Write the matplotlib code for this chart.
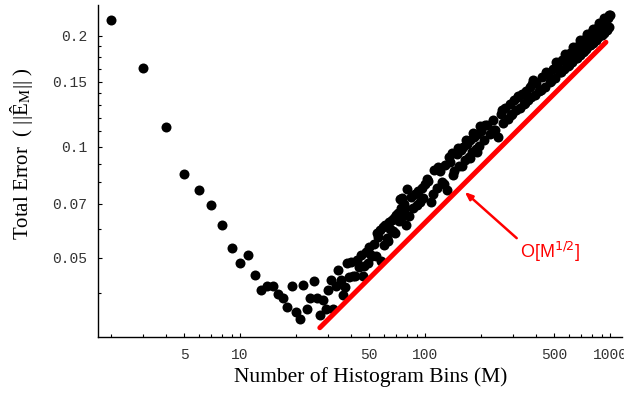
import matplotlib
matplotlib.use("Agg")
import matplotlib.pyplot as plt
from matplotlib.ticker import FixedLocator, NullFormatter

plt.rcParams["mathtext.fontset"] = "stix"

# Total error versus number of histogram bins (one point per bin count)
bins_small = list(range(2, 80))
err_small = [
    0.2207, 0.1637, 0.1129, 0.0845, 0.0762, 0.0695, 0.0613, 0.0532, 0.0483,
    0.0508, 0.0448, 0.0410, 0.0420, 0.0420, 0.0398, 0.0390, 0.0367, 0.0420,
    0.0356, 0.0342, 0.0423, 0.0364, 0.0390, 0.0433,
    0.0390, 0.0350, 0.0384, 0.0363, 0.0410, 0.0436, 0.0363, 0.0418, 0.0464,
    0.0436, 0.0396, 0.0416, 0.0485, 0.0443, 0.0487, 0.0446, 0.0446, 0.0492,
    0.0472, 0.0508, 0.0447, 0.0475, 0.0519, 0.0485, 0.0533, 0.0510, 0.0505,
    0.0545, 0.0505, 0.0584, 0.0570, 0.0596, 0.0490, 0.0604, 0.0540, 0.0613,
    0.0566, 0.0556, 0.0625, 0.0600, 0.0633, 0.0590, 0.0640, 0.0582, 0.0653,
    0.0660, 0.0630, 0.0720, 0.0680, 0.0725, 0.0650, 0.0700, 0.0680, 0.0613,
]

bins_mid = [80, 82, 84, 86, 88, 90, 92, 94, 96, 98, 100,
            104, 108, 112, 116, 120, 124, 128, 132, 136, 140, 144, 148,
            152, 156, 160, 164, 168, 172, 176, 180, 184, 188, 192, 196]
err_mid = [0.0766, 0.0650, 0.0730, 0.0680, 0.0745, 0.0695, 0.0760, 0.0710,
           0.0775, 0.0725, 0.0790,
           0.0805, 0.0709, 0.0865, 0.0775, 0.0860, 0.0800, 0.0890, 0.0763,
           0.0910, 0.0960, 0.0860, 0.0955, 0.0885, 0.0980, 0.1000, 0.0920,
           0.1015, 0.0940, 0.1040, 0.0965, 0.1060, 0.0985, 0.1085, 0.1005]

bins_mid2 = [102, 110, 118, 126, 134, 142, 150, 158, 166, 174, 182, 190, 198]
err_mid2 = [0.0817, 0.0745, 0.0880, 0.0790, 0.0940, 0.0840, 0.0990, 0.0888,
            0.1045, 0.0930, 0.1090, 0.0970, 0.1135]

bins_large = [200, 208, 216, 224, 232, 240, 248, 256, 264, 272, 280, 288,
              296, 304, 312, 320, 328, 336, 344, 352, 360, 368, 376, 384,
              392, 400, 415, 430, 445, 460, 475, 490, 505, 520, 535, 550,
              565, 580, 595, 610, 625, 640, 655, 670, 685, 700, 715, 730,
              745, 760, 775, 790, 805, 820, 835, 850, 865, 880, 895, 910,
              925, 940, 955, 970, 985, 1000]
err_large = [0.1100, 0.1040, 0.1145, 0.1080, 0.1185, 0.1110, 0.1064, 0.1230,
             0.1160, 0.1270, 0.1190, 0.1305, 0.1225, 0.1340, 0.1260, 0.1366,
             0.1275, 0.1390, 0.1305, 0.1420, 0.1335, 0.1455, 0.1365, 0.1517,
             0.1380, 0.1490, 0.1420, 0.1545, 0.1450, 0.1575, 0.1500, 0.1625,
             0.1540, 0.1675, 0.1590, 0.1720, 0.1620, 0.1755, 0.1660, 0.1800,
             0.1700, 0.1840, 0.1735, 0.1870, 0.1770, 0.1915, 0.1810, 0.1955,
             0.1845, 0.1995, 0.1885, 0.2030, 0.1910, 0.2060, 0.1945, 0.2095,
             0.1980, 0.2130, 0.2010, 0.2165, 0.2040, 0.2195, 0.2075, 0.2230,
             0.2110, 0.2275]

bins_extra = [210, 236, 260, 290, 318, 348, 380, 422, 452, 482, 512, 542,
              572, 602, 632, 662, 692, 722, 752, 782, 812, 842, 872, 902,
              932, 962, 992]
err_extra = [0.1147, 0.1112, 0.1259, 0.1216, 0.1374, 0.1314, 0.1481, 0.1427,
             0.1593, 0.1504, 0.1695, 0.1595, 0.1779, 0.1669, 0.1869, 0.1738,
             0.1942, 0.1815, 0.2026, 0.1889, 0.2089, 0.1946, 0.2165, 0.2014,
             0.2232, 0.2074, 0.2280]

# O(M^1/2) reference line endpoints
ref_bins = [27, 950]
ref_err = [0.0323, 0.1920]

x_major = [5, 10, 50, 100, 500, 1000]
x_minor = [2, 3, 4, 6, 7, 8, 9, 20, 30, 40, 60, 70, 80, 90,
           200, 300, 400, 600, 700, 800, 900]
y_major = [0.05, 0.07, 0.1, 0.15, 0.2]
y_major_labels = ["0.05", "0.07", "0.1", "0.15", "0.2"]
y_minor = [0.04, 0.06, 0.08, 0.09, 0.11, 0.12, 0.13, 0.14,
           0.1625, 0.175, 0.1875]

fig = plt.figure(figsize=(6.24, 3.95), dpi=100)
ax = fig.add_axes([0.1575, 0.1476, 0.8388, 0.8397])
ax.set_xscale("log")
ax.set_yscale("log")

dot = dict(marker="o", linestyle="none", color="black", markersize=7.2,
           markeredgewidth=0)
ax.plot(bins_small, err_small, **dot)
ax.plot(bins_mid, err_mid, **dot)
ax.plot(bins_mid2, err_mid2, **dot)
ax.plot(bins_large, err_large, **dot)
ax.plot(bins_extra, err_extra, **dot)

ax.plot(ref_bins, ref_err, color="#ff0000", linewidth=3.6,
        solid_capstyle="round", zorder=3)

ax.annotate("", xy=(164, 0.0754), xytext=(313, 0.0565),
            arrowprops=dict(arrowstyle="-|>,head_length=0.45,head_width=0.18",
                            color="#ff0000", lw=1.8, shrinkA=0, shrinkB=0))
ax.text(474, 0.0518, r"O[M$^{1/2}$]", color="#ff0000", fontsize=13,
        family="Liberation Sans", math_fontfamily="dejavusans",
        ha="center", va="center")

ax.set_xlim(1.714, 1156)
ax.set_ylim(0.03054, 0.2422)

for side in ("top", "right"):
    ax.spines[side].set_visible(False)
for side in ("left", "bottom"):
    ax.spines[side].set_linewidth(1.0)

ax.xaxis.set_major_locator(FixedLocator(x_major))
ax.xaxis.set_minor_locator(FixedLocator(x_minor))
ax.set_xticklabels([str(v) for v in x_major])
ax.xaxis.set_minor_formatter(NullFormatter())
ax.yaxis.set_major_locator(FixedLocator(y_major))
ax.yaxis.set_minor_locator(FixedLocator(y_minor))
ax.set_yticklabels(y_major_labels)
ax.yaxis.set_minor_formatter(NullFormatter())

ax.tick_params(which="both", direction="in", width=0.8, colors="black",
               labelcolor="#333333", labelsize=10.5)
ax.tick_params(which="major", length=3.2, pad=8)
ax.tick_params(which="minor", length=2.2)
for lab in ax.get_xticklabels() + ax.get_yticklabels():
    lab.set_family("Liberation Mono")

ax.set_xlabel("Number of Histogram Bins (M)", family="Liberation Serif",
              fontsize=15.5)
ax.xaxis.set_label_coords(0.521, -0.093)
ax.set_ylabel("Total Error  ( ||Ê$_{\\mathrm{M}}$|| )",
              family="Liberation Serif", fontsize=15)
ax.yaxis.set_label_coords(-0.121, 0.552)

fig.savefig("out.png", dpi=100)
